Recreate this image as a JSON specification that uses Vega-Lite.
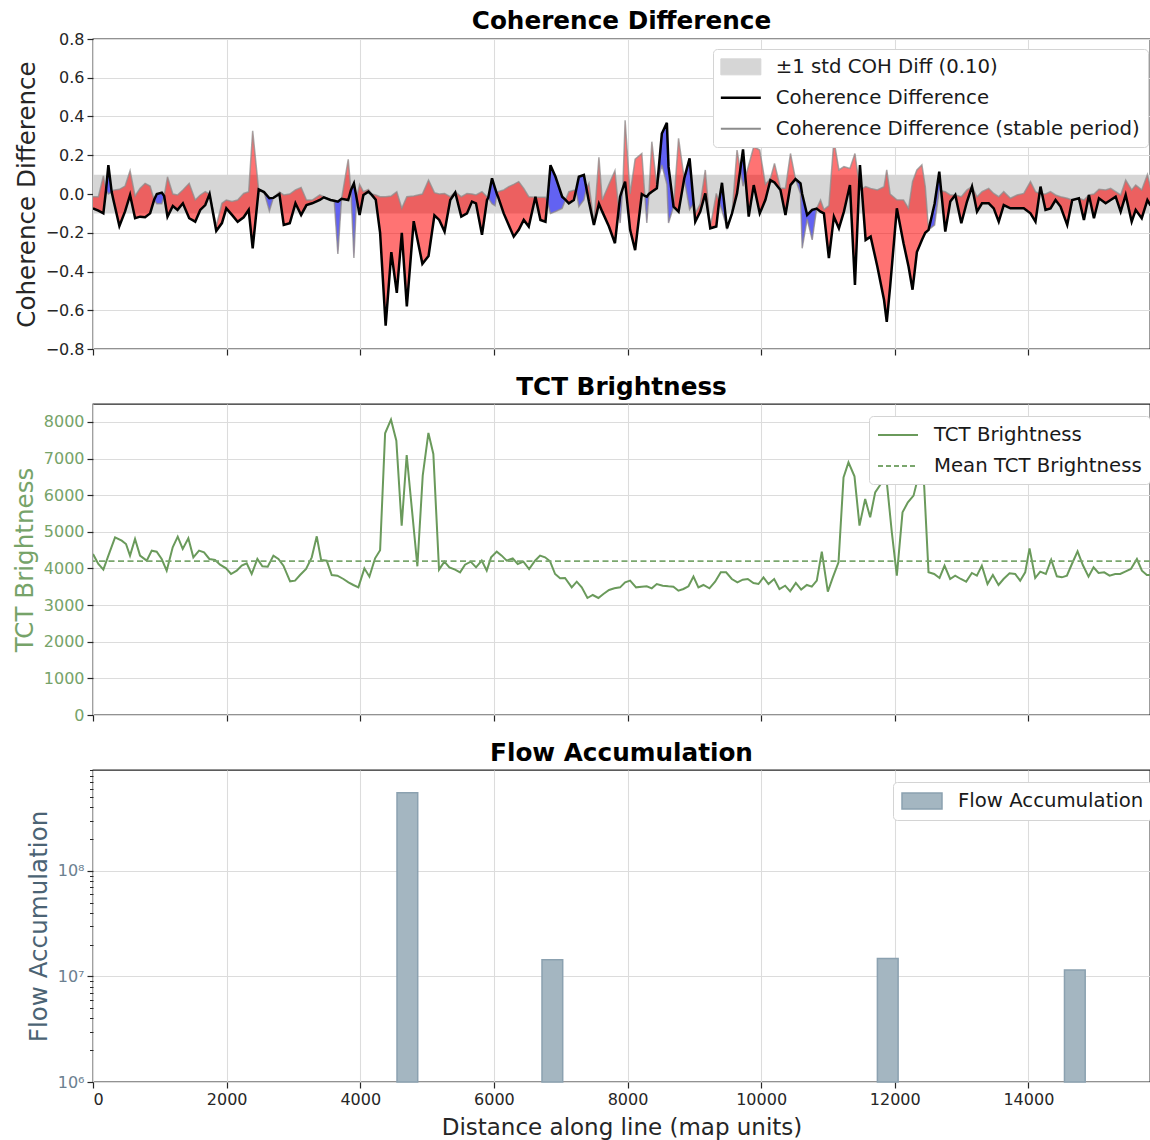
{
"$schema": "https://vega.github.io/schema/vega-lite/v6.json",
"background": "white",
"padding": {"left": 11, "top": 8, "right": 0, "bottom": 0},
"spacing": 16,
"config": {
  "font": "DejaVu Sans",
  "view": {"stroke": "#262626", "strokeWidth": 1.3},
  "axis": {"domain": false, "grid": true, "gridColor": "#dcdcdc", "gridWidth": 1.1, "tickColor": "#262626", "tickSize": 6, "tickWidth": 1.2, "labelFont": "DejaVu Sans", "labelFontSize": 16, "labelColor": "#262626", "labelPadding": 3, "labelOverlap": false, "titleFont": "DejaVu Sans", "titleFontSize": 24.6, "titleFontWeight": "normal", "titleColor": "#262626", "titlePadding": 6},
  "title": {"font": "DejaVu Sans", "fontWeight": "bold", "fontSize": 24.7, "color": "#000000", "anchor": "middle", "frame": "group", "baseline": "alphabetic", "offset": 4},
  "legend": {"orient": "none", "labelFont": "DejaVu Sans", "labelFontSize": 19.7, "labelColor": "#1a1a1a", "labelLimit": 800, "fillColor": "white", "strokeColor": "#d4d4d4", "cornerRadius": 4, "padding": 8, "symbolSize": 400, "symbolOffset": 10, "labelOffset": 25, "rowPadding": 10}
},
"resolve": {"scale": {"color": "independent", "x": "independent", "y": "independent"}, "legend": {"color": "independent"}},
"datasets": {
"coh": [
{"d":0,"coh":-0.074,"st":-0.014},
{"d":80,"coh":-0.086,"st":-0.014},
{"d":155,"coh":-0.10,"st":0.093},
{"d":195,"coh":0.02,"st":0.02,"b":1},
{"d":230,"coh":0.149,"st":0.0,"b":1},
{"d":280,"coh":0.01,"st":0.01,"b":1},
{"d":305,"coh":-0.03,"st":0.02},
{"d":395,"coh":-0.165,"st":0.024},
{"d":480,"coh":-0.09,"st":0.041},
{"d":555,"coh":-0.005,"st":0.12},
{"d":630,"coh":-0.125,"st":-0.01},
{"d":705,"coh":-0.117,"st":0.03},
{"d":780,"coh":-0.12,"st":0.055},
{"d":855,"coh":-0.1,"st":0.041},
{"d":915,"coh":-0.03,"st":-0.03,"b":2},
{"d":955,"coh":0.0,"st":-0.05,"b":2},
{"d":1030,"coh":0.007,"st":-0.05,"b":2},
{"d":1065,"coh":-0.01,"st":-0.01,"b":2},
{"d":1115,"coh":-0.117,"st":0.089},
{"d":1195,"coh":-0.062,"st":0.0},
{"d":1265,"coh":-0.082,"st":-0.005},
{"d":1345,"coh":-0.048,"st":0.021},
{"d":1440,"coh":-0.125,"st":0.055},
{"d":1530,"coh":-0.143,"st":-0.031},
{"d":1605,"coh":-0.082,"st":-0.005},
{"d":1680,"coh":-0.057,"st":0.012},
{"d":1745,"coh":0.0,"st":0.0},
{"d":1845,"coh":-0.19,"st":-0.165},
{"d":1930,"coh":-0.15,"st":-0.048},
{"d":1995,"coh":-0.074,"st":-0.031},
{"d":2080,"coh":-0.108,"st":-0.039},
{"d":2165,"coh":-0.143,"st":-0.031},
{"d":2255,"coh":-0.12,"st":0.003},
{"d":2330,"coh":-0.082,"st":0.012},
{"d":2390,"coh":-0.28,"st":0.326},
{"d":2480,"coh":0.024,"st":0.018},
{"d":2560,"coh":0.01,"st":0.01,"b":3},
{"d":2640,"coh":-0.022,"st":-0.088,"b":3},
{"d":2700,"coh":-0.02,"st":-0.02,"b":3},
{"d":2790,"coh":0.0,"st":0.01},
{"d":2855,"coh":-0.16,"st":-0.005},
{"d":2945,"coh":-0.151,"st":0.0},
{"d":3030,"coh":-0.048,"st":0.021},
{"d":3115,"coh":-0.108,"st":0.034},
{"d":3195,"coh":-0.057,"st":-0.031},
{"d":3280,"coh":-0.048,"st":-0.031},
{"d":3395,"coh":-0.031,"st":-0.005},
{"d":3455,"coh":-0.017,"st":-0.014},
{"d":3555,"coh":-0.031,"st":-0.031},
{"d":3610,"coh":-0.035,"st":-0.035,"b":4},
{"d":3665,"coh":-0.04,"st":-0.31,"b":4},
{"d":3720,"coh":-0.025,"st":-0.025,"b":4},
{"d":3820,"coh":-0.031,"st":0.179},
{"d":3860,"coh":0.02,"st":0.02,"b":5},
{"d":3905,"coh":0.055,"st":-0.33,"b":5},
{"d":3945,"coh":-0.02,"st":-0.02,"b":5},
{"d":3990,"coh":-0.108,"st":0.05},
{"d":4047,"coh":-0.005,"st":0.012},
{"d":4122,"coh":0.012,"st":0.024},
{"d":4172,"coh":-0.005,"st":0.0},
{"d":4232,"coh":-0.03,"st":-0.005},
{"d":4297,"coh":-0.2,"st":-0.014},
{"d":4380,"coh":-0.68,"st":-0.014},
{"d":4465,"coh":-0.30,"st":-0.01},
{"d":4547,"coh":-0.51,"st":0.012},
{"d":4622,"coh":-0.20,"st":-0.074},
{"d":4697,"coh":-0.58,"st":-0.014},
{"d":4800,"coh":-0.14,"st":-0.01},
{"d":4930,"coh":-0.36,"st":0.0},
{"d":5022,"coh":-0.32,"st":0.072},
{"d":5110,"coh":-0.11,"st":0.007},
{"d":5182,"coh":-0.134,"st":0.0},
{"d":5262,"coh":-0.194,"st":0.003},
{"d":5347,"coh":-0.031,"st":-0.014},
{"d":5422,"coh":0.008,"st":0.012},
{"d":5512,"coh":-0.117,"st":-0.014},
{"d":5597,"coh":-0.1,"st":0.003},
{"d":5672,"coh":-0.039,"st":0.0},
{"d":5732,"coh":-0.048,"st":-0.005},
{"d":5822,"coh":-0.211,"st":0.012},
{"d":5897,"coh":-0.031,"st":-0.014},
{"d":5915,"coh":-0.02,"st":-0.02,"b":6},
{"d":5972,"coh":0.081,"st":-0.05,"b":6},
{"d":6017,"coh":0.03,"st":-0.06,"b":6},
{"d":6045,"coh":0.0,"st":0.0,"b":6},
{"d":6062,"coh":-0.014,"st":0.012},
{"d":6147,"coh":-0.1,"st":0.021},
{"d":6222,"coh":-0.16,"st":0.038},
{"d":6297,"coh":-0.22,"st":0.05},
{"d":6372,"coh":-0.185,"st":0.064},
{"d":6447,"coh":-0.134,"st":0.029},
{"d":6522,"coh":-0.168,"st":-0.014},
{"d":6622,"coh":-0.014,"st":-0.017},
{"d":6697,"coh":-0.134,"st":-0.017},
{"d":6772,"coh":-0.143,"st":-0.017},
{"d":6800,"coh":-0.04,"st":-0.04,"b":7},
{"d":6847,"coh":0.149,"st":-0.1,"b":7},
{"d":6922,"coh":0.089,"st":-0.09,"b":7},
{"d":7022,"coh":-0.014,"st":-0.074,"b":7},
{"d":7072,"coh":-0.03,"st":-0.03,"b":7},
{"d":7122,"coh":-0.048,"st":0.012},
{"d":7197,"coh":-0.031,"st":0.02},
{"d":7230,"coh":0.02,"st":0.02,"b":8},
{"d":7272,"coh":0.089,"st":-0.065,"b":8},
{"d":7347,"coh":0.098,"st":-0.031,"b":8},
{"d":7385,"coh":0.03,"st":0.03,"b":8},
{"d":7422,"coh":-0.039,"st":0.055},
{"d":7497,"coh":-0.16,"st":-0.15},
{"d":7572,"coh":-0.05,"st":0.19},
{"d":7622,"coh":-0.091,"st":-0.031},
{"d":7722,"coh":-0.168,"st":0.05},
{"d":7812,"coh":-0.254,"st":0.12},
{"d":7868,"coh":-0.078,"st":-0.078,"b":9},
{"d":7889,"coh":-0.014,"st":-0.15,"b":9},
{"d":7930,"coh":0.03,"st":0.03,"b":9},
{"d":7964,"coh":0.064,"st":0.381},
{"d":8039,"coh":-0.185,"st":0.0},
{"d":8114,"coh":-0.29,"st":0.18},
{"d":8214,"coh":0.0,"st":0.209},
{"d":8260,"coh":-0.01,"st":-0.01,"b":10},
{"d":8289,"coh":-0.014,"st":-0.15,"b":10},
{"d":8320,"coh":0.0,"st":0.0,"b":10},
{"d":8364,"coh":0.012,"st":0.27},
{"d":8439,"coh":0.029,"st":0.04},
{"d":8445,"coh":0.047,"st":0.047,"b":11},
{"d":8514,"coh":0.312,"st":0.15,"b":11},
{"d":8589,"coh":0.367,"st":0.05,"b":11},
{"d":8614,"coh":0.14,"st":-0.15,"b":11},
{"d":8689,"coh":-0.065,"st":-0.065,"b":11},
{"d":8764,"coh":-0.091,"st":0.287},
{"d":8849,"coh":0.08,"st":0.08,"b":12},
{"d":8929,"coh":0.184,"st":-0.08,"b":12},
{"d":8990,"coh":-0.05,"st":-0.05,"b":12},
{"d":9014,"coh":-0.143,"st":-0.1},
{"d":9089,"coh":-0.091,"st":-0.05},
{"d":9164,"coh":0.003,"st":0.124},
{"d":9239,"coh":-0.177,"st":-0.17},
{"d":9329,"coh":-0.168,"st":0.003},
{"d":9370,"coh":-0.04,"st":-0.04,"b":13},
{"d":9414,"coh":0.058,"st":-0.085,"b":13},
{"d":9489,"coh":-0.177,"st":-0.177,"b":13},
{"d":9564,"coh":-0.1,"st":-0.1},
{"d":9639,"coh":0.003,"st":0.227},
{"d":9688,"coh":0.126,"st":0.126,"b":14},
{"d":9729,"coh":0.23,"st":0.04,"b":14},
{"d":9764,"coh":0.086,"st":0.086,"b":14},
{"d":9814,"coh":-0.117,"st":0.15},
{"d":9889,"coh":0.046,"st":0.244},
{"d":9979,"coh":-0.1,"st":0.227},
{"d":10064,"coh":-0.03,"st":0.05},
{"d":10139,"coh":0.072,"st":0.08},
{"d":10200,"coh":0.06,"st":0.158},
{"d":10289,"coh":0.021,"st":0.03},
{"d":10364,"coh":-0.108,"st":0.03},
{"d":10439,"coh":0.046,"st":0.209},
{"d":10514,"coh":0.077,"st":0.077,"b":15},
{"d":10589,"coh":0.055,"st":0.0,"b":15},
{"d":10614,"coh":0.0,"st":-0.28,"b":15},
{"d":10689,"coh":-0.108,"st":-0.13,"b":15},
{"d":10764,"coh":-0.082,"st":-0.237,"b":15},
{"d":10831,"coh":-0.075,"st":-0.075,"b":15},
{"d":10889,"coh":-0.091,"st":-0.031},
{"d":10939,"coh":-0.1,"st":-0.08},
{"d":11014,"coh":-0.331,"st":-0.06},
{"d":11089,"coh":-0.117,"st":0.278},
{"d":11164,"coh":-0.177,"st":0.124},
{"d":11239,"coh":-0.091,"st":0.141},
{"d":11329,"coh":0.046,"st":0.132},
{"d":11404,"coh":-0.469,"st":0.209},
{"d":11467,"coh":0.05,"st":0.05,"b":16},
{"d":11479,"coh":0.149,"st":0.02,"b":16},
{"d":11506,"coh":0.026,"st":0.026,"b":16},
{"d":11564,"coh":-0.237,"st":0.038},
{"d":11639,"coh":-0.22,"st":0.029},
{"d":11739,"coh":-0.374,"st":0.021},
{"d":11839,"coh":-0.546,"st":0.038},
{"d":11880,"coh":-0.66,"st":0.124},
{"d":11931,"coh":-0.477,"st":0.0},
{"d":12031,"coh":-0.074,"st":-0.03},
{"d":12131,"coh":-0.254,"st":-0.031},
{"d":12206,"coh":-0.374,"st":-0.074},
{"d":12266,"coh":-0.494,"st":0.064},
{"d":12331,"coh":-0.3,"st":0.124},
{"d":12406,"coh":-0.237,"st":0.15},
{"d":12456,"coh":-0.2,"st":0.04},
{"d":12506,"coh":-0.185,"st":-0.185,"b":17},
{"d":12596,"coh":-0.05,"st":-0.16,"b":17},
{"d":12666,"coh":0.115,"st":0.02,"b":17},
{"d":12694,"coh":0.017,"st":0.017,"b":17},
{"d":12756,"coh":-0.194,"st":0.012},
{"d":12831,"coh":-0.039,"st":-0.005},
{"d":12906,"coh":-0.005,"st":-0.005},
{"d":12996,"coh":-0.151,"st":-0.014},
{"d":13081,"coh":-0.039,"st":0.021},
{"d":13156,"coh":0.038,"st":0.038},
{"d":13231,"coh":-0.091,"st":-0.014},
{"d":13306,"coh":-0.048,"st":0.012},
{"d":13406,"coh":-0.048,"st":0.029},
{"d":13481,"coh":-0.074,"st":0.003},
{"d":13556,"coh":-0.143,"st":-0.014},
{"d":13631,"coh":-0.057,"st":0.012},
{"d":13731,"coh":-0.074,"st":-0.022},
{"d":13831,"coh":-0.074,"st":-0.005},
{"d":13931,"coh":-0.074,"st":0.003},
{"d":14031,"coh":-0.1,"st":0.064},
{"d":14106,"coh":-0.143,"st":0.012},
{"d":14166,"coh":0.002,"st":0.002,"b":18},
{"d":14181,"coh":0.038,"st":0.0,"b":18},
{"d":14205,"coh":0.0,"st":0.0,"b":18},
{"d":14256,"coh":-0.082,"st":0.0},
{"d":14331,"coh":-0.074,"st":0.012},
{"d":14406,"coh":-0.031,"st":-0.005},
{"d":14481,"coh":-0.065,"st":-0.014},
{"d":14581,"coh":-0.16,"st":-0.022},
{"d":14656,"coh":-0.031,"st":-0.031},
{"d":14756,"coh":-0.022,"st":-0.022},
{"d":14831,"coh":-0.134,"st":-0.031},
{"d":14906,"coh":-0.005,"st":-0.005},
{"d":14981,"coh":-0.125,"st":0.0},
{"d":15056,"coh":-0.022,"st":0.024},
{"d":15156,"coh":-0.048,"st":0.021},
{"d":15231,"coh":-0.031,"st":0.029},
{"d":15306,"coh":-0.014,"st":0.012},
{"d":15381,"coh":-0.091,"st":-0.005},
{"d":15456,"coh":-0.005,"st":0.072},
{"d":15546,"coh":-0.143,"st":0.021},
{"d":15606,"coh":-0.082,"st":0.046},
{"d":15696,"coh":-0.125,"st":0.021},
{"d":15781,"coh":-0.031,"st":0.10},
{"d":15830,"coh":-0.06,"st":0.03}
],
"tct": [
{"d":0,"v":4395},{"d":80,"v":4122},{"d":155,"v":3968},{"d":230,"v":4350},{"d":330,"v":4850},{"d":430,"v":4759},{"d":494,"v":4668},{"d":554,"v":4350},{"d":629,"v":4805},{"d":704,"v":4350},{"d":804,"v":4213},{"d":879,"v":4486},{"d":953,"v":4459},{"d":1028,"v":4259},{"d":1103,"v":3940},{"d":1193,"v":4577},{"d":1268,"v":4868},{"d":1343,"v":4532},{"d":1427,"v":4823},{"d":1502,"v":4304},{"d":1587,"v":4486},{"d":1662,"v":4441},{"d":1742,"v":4259},{"d":1827,"v":4231},{"d":1902,"v":4104},{"d":1992,"v":4004},{"d":2066,"v":3849},{"d":2151,"v":3940},{"d":2226,"v":4077},{"d":2301,"v":4140},{"d":2375,"v":3849},{"d":2460,"v":4259},{"d":2535,"v":4059},{"d":2615,"v":4050},{"d":2700,"v":4350},{"d":2775,"v":4259},{"d":2850,"v":4077},{"d":2950,"v":3649},{"d":3024,"v":3667},{"d":3099,"v":3822},{"d":3189,"v":3986},{"d":3274,"v":4304},{"d":3349,"v":4878},{"d":3414,"v":4231},{"d":3498,"v":4213},{"d":3573,"v":3822},{"d":3658,"v":3804},{"d":3748,"v":3713},{"d":3823,"v":3622},{"d":3897,"v":3549},{"d":3972,"v":3485},{"d":4062,"v":4004},{"d":4137,"v":3777},{"d":4222,"v":4277},{"d":4297,"v":4500},{"d":4372,"v":7690},{"d":4460,"v":8063},{"d":4540,"v":7489},{"d":4620,"v":5169},{"d":4695,"v":7098},{"d":4855,"v":4059},{"d":4935,"v":6534},{"d":5020,"v":7699},{"d":5094,"v":7125},{"d":5179,"v":3968},{"d":5259,"v":4186},{"d":5334,"v":4031},{"d":5419,"v":3968},{"d":5494,"v":3895},{"d":5568,"v":4104},{"d":5653,"v":4186},{"d":5733,"v":4031},{"d":5818,"v":4213},{"d":5893,"v":3940},{"d":5958,"v":4304},{"d":6043,"v":4459},{"d":6117,"v":4350},{"d":6192,"v":4213},{"d":6282,"v":4277},{"d":6357,"v":4122},{"d":6442,"v":4186},{"d":6527,"v":3986},{"d":6616,"v":4213},{"d":6691,"v":4350},{"d":6766,"v":4304},{"d":6841,"v":4195},{"d":6916,"v":3849},{"d":6991,"v":3731},{"d":7065,"v":3740},{"d":7165,"v":3485},{"d":7240,"v":3640},{"d":7315,"v":3485},{"d":7400,"v":3194},{"d":7480,"v":3276},{"d":7564,"v":3194},{"d":7639,"v":3303},{"d":7724,"v":3412},{"d":7804,"v":3458},{"d":7889,"v":3485},{"d":7964,"v":3622},{"d":8039,"v":3667},{"d":8128,"v":3485},{"d":8213,"v":3503},{"d":8288,"v":3513},{"d":8363,"v":3458},{"d":8438,"v":3576},{"d":8527,"v":3531},{"d":8612,"v":3513},{"d":8687,"v":3503},{"d":8762,"v":3394},{"d":8837,"v":3440},{"d":8912,"v":3513},{"d":8987,"v":3777},{"d":9061,"v":3485},{"d":9136,"v":3549},{"d":9226,"v":3458},{"d":9311,"v":3640},{"d":9396,"v":3895},{"d":9476,"v":3895},{"d":9561,"v":3713},{"d":9645,"v":3622},{"d":9725,"v":3695},{"d":9800,"v":3713},{"d":9885,"v":3604},{"d":9960,"v":3576},{"d":10035,"v":3758},{"d":10110,"v":3576},{"d":10195,"v":3713},{"d":10274,"v":3440},{"d":10359,"v":3531},{"d":10434,"v":3376},{"d":10519,"v":3604},{"d":10599,"v":3422},{"d":10684,"v":3549},{"d":10758,"v":3503},{"d":10833,"v":3667},{"d":10908,"v":4459},{"d":10998,"v":3367},{"d":11073,"v":3758},{"d":11158,"v":4168},{"d":11233,"v":6488},{"d":11307,"v":6898},{"d":11397,"v":6516},{"d":11472,"v":5169},{"d":11557,"v":5897},{"d":11632,"v":5396},{"d":11707,"v":6079},{"d":11791,"v":6306},{"d":11871,"v":6534},{"d":11956,"v":4987},{"d":12031,"v":3804},{"d":12116,"v":5533},{"d":12196,"v":5806},{"d":12281,"v":5988},{"d":12365,"v":6607},{"d":12440,"v":6261},{"d":12505,"v":3895},{"d":12590,"v":3849},{"d":12670,"v":3740},{"d":12745,"v":4077},{"d":12829,"v":3713},{"d":12904,"v":3804},{"d":12989,"v":3713},{"d":13069,"v":3640},{"d":13154,"v":3877},{"d":13229,"v":3804},{"d":13303,"v":4077},{"d":13388,"v":3576},{"d":13468,"v":3822},{"d":13553,"v":3549},{"d":13628,"v":3713},{"d":13718,"v":3868},{"d":13802,"v":3849},{"d":13877,"v":3667},{"d":13952,"v":3895},{"d":14017,"v":4550},{"d":14102,"v":3740},{"d":14177,"v":3913},{"d":14261,"v":3849},{"d":14341,"v":4241},{"d":14426,"v":3786},{"d":14501,"v":3758},{"d":14576,"v":3804},{"d":14651,"v":4122},{"d":14736,"v":4468},{"d":14815,"v":4095},{"d":14900,"v":3777},{"d":14975,"v":4031},{"d":15050,"v":3877},{"d":15135,"v":3895},{"d":15215,"v":3804},{"d":15299,"v":3849},{"d":15374,"v":3849},{"d":15449,"v":3913},{"d":15534,"v":3986},{"d":15624,"v":4259},{"d":15699,"v":3940},{"d":15773,"v":3822},{"d":15830,"v":3822}
],
"flow": [
{"x0":4550,"x1":4860,"f":550000000},
{"x0":6720,"x1":7030,"f":14400000},
{"x0":11740,"x1":12050,"f":14800000},
{"x0":14540,"x1":14850,"f":11500000}
]
},
"vconcat": [
{
 "width": 1057, "height": 310,
 "title": {"text": "Coherence Difference", "offset": -3},
 "layer": [
  {
   "data": {"values": [{"x0": 0, "x1": 15820, "lo": -0.1, "hi": 0.1, "s": "±1 std COH Diff (0.10)"}]},
   "mark": {"type": "rect"},
   "encoding": {
     "x": {"field": "x0", "type": "quantitative", "scale": {"domain": [0, 15820], "nice": false, "zero": false}, "axis": {"values": [0,2000,4000,6000,8000,10000,12000,14000], "tickCount": 30, "labels": false, "title": null}},
     "x2": {"field": "x1"},
     "y": {"field": "lo", "type": "quantitative", "scale": {"domain": [-0.8, 0.8], "nice": false, "zero": false}, "axis": {"values": [-0.8,-0.6,-0.4,-0.2,0,0.2,0.4,0.6,0.8], "tickCount": 30, "format": ".1f", "labelOverlap": false, "title": "Coherence Difference"}},
     "y2": {"field": "hi"},
     "color": {"field": "s", "type": "nominal",
       "scale": {"domain": ["±1 std COH Diff (0.10)", "Coherence Difference", "Coherence Difference (stable period)"], "range": ["#d6d6d6", "#000000", "#8c8c8c"]},
       "legend": {"title": null, "legendX": 620, "legendY": 10, "symbolSize": 400,
         "encode": {"symbols": {"update": {
           "size": {"value": 400},
           "shape": {"signal": "datum.value === '±1 std COH Diff (0.10)' ? 'M-2,-0.8H2V0.8H-2Z' : 'M-2,0H2'"},
           "fill": {"signal": "datum.value === '±1 std COH Diff (0.10)' ? '#d6d6d6' : 'transparent'"},
           "stroke": {"signal": "datum.value === '±1 std COH Diff (0.10)' ? '#c8c8c8' : (datum.value === 'Coherence Difference' ? '#000000' : '#8c8c8c')"},
           "strokeWidth": {"signal": "datum.value === '±1 std COH Diff (0.10)' ? 1 : (datum.value === 'Coherence Difference' ? 2.5 : 2)"},
           "opacity": {"value": 1}
         }}}}}
   }
  },
  {
   "data": {"name": "coh"},
   "mark": {"type": "area", "color": "#ff0000", "opacity": 0.55, "clip": true},
   "encoding": {"x": {"field": "d", "type": "quantitative"}, "y": {"field": "coh", "type": "quantitative"}, "y2": {"field": "st"}}
  },
  {
   "data": {"name": "coh"},
   "transform": [{"filter": "datum.b != null"}],
   "mark": {"type": "area", "color": "#6262f2", "opacity": 1, "clip": true},
   "encoding": {"x": {"field": "d", "type": "quantitative"}, "y": {"field": "coh", "type": "quantitative"}, "y2": {"field": "st"}, "detail": {"field": "b", "type": "nominal"}}
  },
  {
   "data": {"name": "coh"},
   "mark": {"type": "line", "strokeWidth": 1.5, "opacity": 0.75, "clip": true},
   "encoding": {"x": {"field": "d", "type": "quantitative"}, "y": {"field": "st", "type": "quantitative"}, "color": {"datum": "Coherence Difference (stable period)"}}
  },
  {
   "data": {"name": "coh"},
   "mark": {"type": "line", "strokeWidth": 2.5, "clip": true},
   "encoding": {"x": {"field": "d", "type": "quantitative"}, "y": {"field": "coh", "type": "quantitative"}, "color": {"datum": "Coherence Difference"}}
  }
 ]
},
{
 "width": 1057, "height": 311,
 "title": {"text": "TCT Brightness"},
 "layer": [
  {
   "data": {"name": "tct"},
   "mark": {"type": "line", "strokeWidth": 2, "clip": true},
   "encoding": {
     "x": {"field": "d", "type": "quantitative", "scale": {"domain": [0, 15820], "nice": false, "zero": false}, "axis": {"values": [0,2000,4000,6000,8000,10000,12000,14000], "tickCount": 30, "labels": false, "title": null}},
     "y": {"field": "v", "type": "quantitative", "scale": {"domain": [0, 8490], "nice": false}, "axis": {"values": [0,1000,2000,3000,4000,5000,6000,7000,8000], "tickCount": 30, "format": "d", "labelOverlap": false, "title": "TCT Brightness", "labelColor": "#76a369", "titleColor": "#76a369"}},
     "color": {"datum": "TCT Brightness",
       "scale": {"domain": ["TCT Brightness", "Mean TCT Brightness"], "range": ["#6a9a5b", "#7aa66d"]},
       "legend": {"title": null, "legendX": 776, "legendY": 12, "symbolSize": 400,
         "encode": {"symbols": {"update": {
           "size": {"value": 400},
           "shape": {"value": "M-2,0H2"},
           "fill": {"value": "transparent"},
           "strokeWidth": {"value": 2},
           "strokeDash": {"signal": "datum.value === 'Mean TCT Brightness' ? [5, 3] : [1, 0]"}
         }}}}}
   }
  },
  {
   "data": {"values": [{"m": 4200}]},
   "mark": {"type": "rule", "strokeDash": [6, 3.5], "strokeWidth": 1.6},
   "encoding": {"y": {"field": "m", "type": "quantitative"}, "color": {"datum": "Mean TCT Brightness"}}
  }
 ]
},
{
 "width": 1057, "height": 312,
 "title": {"text": "Flow Accumulation"},
 "resolve": {"axis": {"y": "independent"}},
 "layer": [
  {
   "data": {"name": "flow"},
   "mark": {"type": "rect", "stroke": "#8ba1b0", "strokeWidth": 1.5},
   "encoding": {
     "x": {"field": "x0", "type": "quantitative", "scale": {"domain": [0, 15820], "nice": false, "zero": false}, "axis": {"values": [0,2000,4000,6000,8000,10000,12000,14000], "tickCount": 30, "format": "d", "title": "Distance along line (map units)", "titleFontSize": 23, "titlePadding": 9}},
     "x2": {"field": "x1"},
     "y": {"field": "f", "type": "quantitative", "scale": {"type": "log", "domain": [1000000, 906000000], "nice": false}, "axis": {"values": [1000000, 10000000, 100000000], "tickCount": 30, "labelOverlap": false, "labelExpr": "datum.value < 5000000 ? '10⁶' : (datum.value < 50000000 ? '10⁷' : '10⁸')", "title": "Flow Accumulation", "labelColor": "#6b8090", "titleColor": "#4b6374"}},
     "y2": {"datum": 1000000},
     "color": {"datum": "Flow Accumulation", "scale": {"domain": ["Flow Accumulation"], "range": ["#a4b6c1"]},
       "legend": {"title": null, "legendX": 800, "legendY": 12, "symbolSize": 400, "symbolType": "M-2,-0.8H2V0.8H-2Z",
         "encode": {"symbols": {"update": {
           "size": {"value": 400},
           "shape": {"value": "M-2,-0.8H2V0.8H-2Z"},
           "fill": {"value": "#a4b6c1"},
           "stroke": {"value": "#8ba1b0"},
           "strokeWidth": {"value": 1.5}
         }}}}}
   }
  },
  {
   "data": {"name": "flow"},
   "mark": {"type": "rect", "opacity": 0},
   "encoding": {
     "x": {"field": "x0", "type": "quantitative"},
     "x2": {"field": "x1"},
     "y": {"field": "f", "type": "quantitative", "axis": {"orient": "left", "values": [2000000,3000000,4000000,5000000,6000000,7000000,8000000,9000000,20000000,30000000,40000000,50000000,60000000,70000000,80000000,90000000,200000000,300000000,400000000,500000000,600000000,700000000,800000000,900000000], "tickCount": 100, "labels": false, "title": null, "grid": false, "tickSize": 3.5, "tickWidth": 1}},
     "y2": {"datum": 1000000}
   }
  }
 ]
}
]
}
